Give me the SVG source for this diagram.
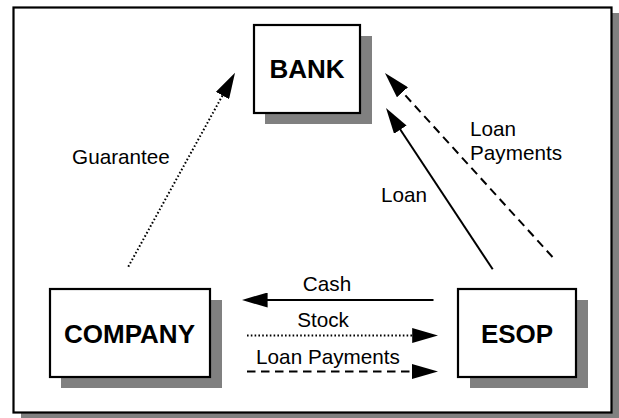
<svg xmlns="http://www.w3.org/2000/svg" width="619" height="418" viewBox="0 0 619 418">
<style>
.shadow{fill:#808080;stroke:none}
.box{fill:#fff;stroke:#000;stroke-width:2.2}
.title{font-family:"Liberation Sans",Arial,sans-serif;font-weight:bold;font-size:26px;text-anchor:middle;fill:#000}
.lbl{font-family:"Liberation Sans",Arial,sans-serif;font-size:20.7px;fill:#000}
.c{text-anchor:middle}
.ln{fill:none;stroke:#000;stroke-width:2;marker-end:url(#ah)}
.dot{stroke-dasharray:1.6 2.2;stroke-width:2}
.dash{stroke-dasharray:8.5 5.5}
</style>
<defs>
<marker id="ah" viewBox="0 0 26 15" refX="16" refY="7.5" markerWidth="26" markerHeight="15" markerUnits="userSpaceOnUse" orient="auto">
<path d="M0,0 L26,7.5 L0,15 Z" fill="#000"/>
</marker>
</defs>
<rect width="619" height="418" fill="#fff"/>
<g id="frame">
<rect class="shadow" x="21" y="13" width="598" height="405"/>
<rect x="13.5" y="7.5" width="598" height="405" fill="#fff" stroke="#000" stroke-width="2.2"/>
</g>
<g id="connectors">
<path class="ln dot" d="M128.3,266.7 L230.2,81.5"/>
<path class="ln" d="M492.7,269.3 L391.5,116.3"/>
<path class="ln dash" d="M552.5,257 L391.7,80.4"/>
<path class="ln" d="M433.5,300 L251.6,300"/>
<path class="ln dot" d="M247,335.5 L428.2,335.5"/>
<path class="ln dash" d="M247,371.5 L428,371.5"/>
<text class="lbl c" x="121" y="164">Guarantee</text>
<text class="lbl c" x="404" y="201.5">Loan</text>
<text class="lbl" x="470" y="136">Loan</text>
<text class="lbl" x="470" y="160">Payments</text>
<text class="lbl c" x="327" y="291">Cash</text>
<text class="lbl c" x="323" y="327">Stock</text>
<text class="lbl c" x="328" y="363.5">Loan Payments</text>
</g>
<g id="bank">
<rect class="shadow" x="265" y="36" width="107" height="88"/>
<rect class="box" x="254" y="25" width="106" height="88"/>
<text class="title" x="307" y="78">BANK</text>
</g>
<g id="company">
<rect class="shadow" x="61" y="300" width="161" height="88"/>
<rect class="box" x="50" y="289" width="160" height="88"/>
<text class="title" x="129.5" y="342.5">COMPANY</text>
</g>
<g id="esop">
<rect class="shadow" x="470" y="300" width="118" height="88"/>
<rect class="box" x="458" y="289" width="118" height="88"/>
<text class="title" x="517" y="342.5">ESOP</text>
</g>
</svg>
